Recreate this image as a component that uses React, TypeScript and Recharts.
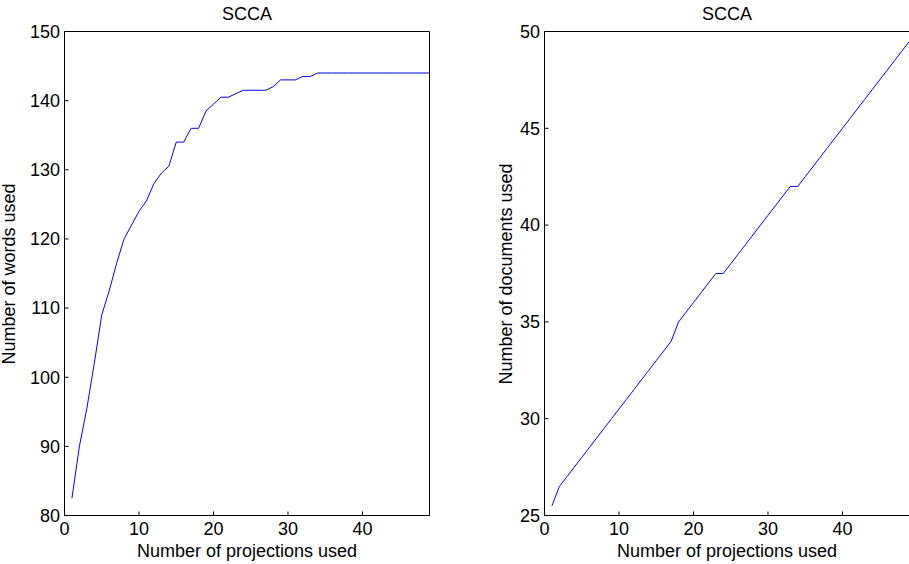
import React from 'react';
import { LineChart, Line, XAxis, YAxis } from 'recharts';

const projections = [1,2,3,4,5,6,7,8,9,10,11,12,13,14,15,16,17,18,19,20,21,22,23,24,25,26,27,28,29,30,31,32,33,34,35,36,37,38,39,40,41,42,43,44,45,46,47,48,49];
const wordsUsed = [82.5,90,95.5,102,109,112.5,116.5,120,122,124,125.5,128,129.5,130.5,134,134,136,136,138.5,139.5,140.5,140.5,141,141.5,141.5,141.5,141.5,142,143,143,143,143.5,143.5,144,144,144,144,144,144,144,144,144,144,144,144,144,144,144,144];
const docsUsed = [25.5,26.5,27,27.5,28,28.5,29,29.5,30,30.5,31,31.5,32,32.5,33,33.5,34,35,35.5,36,36.5,37,37.5,37.5,38,38.5,39,39.5,40,40.5,41,41.5,42,42,42.5,43,43.5,44,44.5,45,45.5,46,46.5,47,47.5,48,48.5,49,49.5];

const xTicks = [0,10,20,30,40];
const wordsTicks = [80,90,100,110,120,130,140,150];
const docsTicks = [25,30,35,40,45,50];
const title = 'SCCA';
const xLabel = 'Number of projections used';
const wordsLabel = 'Number of words used';
const docsLabel = 'Number of documents used';

const wordsData = projections.map((x, i) => ({ x, y: wordsUsed[i] }));
const docsData = projections.map((x, i) => ({ x, y: docsUsed[i] }));

const FONT = '"Liberation Sans", Arial, Helvetica, sans-serif';
const tickStyle = { fontSize: 18, fill: '#000', fontFamily: FONT };

function Panel({ data, yTicks, yDomain, width, yAxisWidth, marginRight }: any) {
  return (
    <LineChart
      width={width}
      height={564}
      data={data}
      margin={{ top: 30.5, right: marginRight, bottom: 0, left: 0 }}
    >
      <XAxis
        xAxisId="b"
        dataKey="x"
        type="number"
        domain={[0, 49]}
        allowDataOverflow
        ticks={xTicks}
        interval={0}
        height={48.5}
        tickSize={-4}
        tickMargin={10.5}
        tick={tickStyle}
        axisLine={{ stroke: '#000', strokeWidth: 1 }}
        tickLine={{ stroke: '#000', strokeWidth: 1 }}
      />
      <XAxis
        xAxisId="t"
        orientation="top"
        dataKey="x"
        type="number"
        domain={[0, 49]}
        allowDataOverflow
        ticks={xTicks}
        interval={0}
        height={1}
        tickSize={-4}
        tick={false}
        axisLine={{ stroke: '#000', strokeWidth: 1 }}
        tickLine={{ stroke: '#000', strokeWidth: 1 }}
      />
      <YAxis
        yAxisId="l"
        type="number"
        domain={yDomain}
        allowDataOverflow
        ticks={yTicks}
        interval={0}
        width={yAxisWidth}
        tickSize={-4}
        tickMargin={8.5}
        tick={tickStyle}
        axisLine={{ stroke: '#000', strokeWidth: 1 }}
        tickLine={{ stroke: '#000', strokeWidth: 1 }}
      />
      <YAxis
        yAxisId="r"
        orientation="right"
        type="number"
        domain={yDomain}
        allowDataOverflow
        ticks={yTicks}
        interval={0}
        width={1}
        tickSize={-4}
        tick={false}
        axisLine={{ stroke: '#000', strokeWidth: 1 }}
        tickLine={{ stroke: '#000', strokeWidth: 1 }}
      />
      <Line
        xAxisId="b"
        yAxisId="l"
        type="linear"
        dataKey="y"
        stroke="#0000ff"
        strokeWidth={1}
        dot={false}
        activeDot={false}
        isAnimationActive={false}
      />
    </LineChart>
  );
}

const hText = (text: string, cx: number, capY: number) => (
  <div
    style={{
      position: 'absolute',
      left: cx - 200,
      top: capY - 10.8,
      width: 400,
      height: 22,
      lineHeight: '22px',
      textAlign: 'center',
      fontSize: 18,
      fontFamily: FONT,
      color: '#000',
      whiteSpace: 'nowrap',
    }}
  >
    {text}
  </div>
);

const vText = (text: string, cx: number, cy: number) => (
  <div
    style={{
      position: 'absolute',
      left: cx - 120,
      top: cy - 8,
      width: 240,
      height: 16,
      lineHeight: '16px',
      textAlign: 'center',
      fontSize: 18,
      fontFamily: FONT,
      color: '#000',
      whiteSpace: 'nowrap',
      transform: 'rotate(-90deg)',
      transformOrigin: '50% 50%',
    }}
  >
    {text}
  </div>
);

export default function App() {
  return (
    <div
      style={{
        position: 'fixed',
        left: 0,
        top: 0,
        width: 909,
        height: 564,
        overflow: 'hidden',
        background: '#fff',
        fontFamily: FONT,
      }}
    >
      <div style={{ position: 'absolute', left: 0, top: 0 }}>
        <Panel data={wordsData} yTicks={wordsTicks} yDomain={[80, 150]} width={460} yAxisWidth={64.5} marginRight={29.5} />
      </div>
      <div style={{ position: 'absolute', left: 460, top: 0 }}>
        <Panel data={docsData} yTicks={docsTicks} yDomain={[25, 50]} width={450.5} yAxisWidth={84.5} marginRight={0} />
      </div>
      {hText(title, 247, 13.5)}
      {hText(title, 727, 13.5)}
      {hText(xLabel, 247, 551)}
      {hText(xLabel, 727, 551)}
      {vText(wordsLabel, 8.5, 274)}
      {vText(docsLabel, 505.8, 274)}
    </div>
  );
}
